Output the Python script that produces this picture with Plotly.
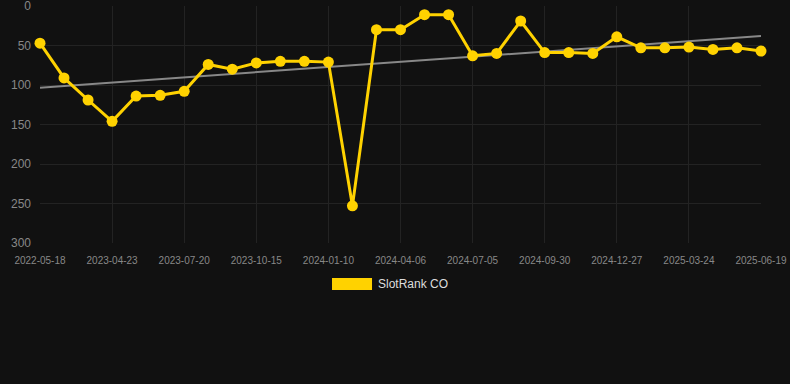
import numpy as np
import plotly.graph_objects as go

tick_labels = ["2022-05-18", "2023-04-23", "2023-07-20", "2023-10-15", "2024-01-10",
               "2024-04-06", "2024-07-05", "2024-09-30", "2024-12-27", "2025-03-24", "2025-06-19"]
ranks = [47, 91, 119, 146, 114, 113, 108, 74, 80, 72, 70, 70, 71, 253, 30, 30,
         11, 11, 63, 60, 19, 59, 59, 60, 39, 53, 53, 52, 55, 53, 57]
series_name = "SlotRank CO"

x = np.arange(len(ranks))
coef = np.polyfit(x, ranks, 1)
trend = np.polyval(coef, x)

gold = "#FFD200"
fig = go.Figure()
fig.add_trace(go.Scatter(x=x, y=trend, mode="lines", line=dict(color="#888888", width=2),
                         showlegend=False, hoverinfo="skip"))
fig.add_trace(go.Scatter(x=x, y=ranks, mode="lines+markers", name=series_name,
                         line=dict(color=gold, width=3),
                         marker=dict(size=11, color=gold),
                         cliponaxis=False, showlegend=False))

# legend drawn as a wide swatch plus text, like the reference
fig.add_shape(type="rect", xref="paper", yref="paper",
              x0=0.405, x1=0.4605, y0=-0.198, y1=-0.1477,
              fillcolor=gold, line=dict(width=0))
fig.add_annotation(text=series_name, xref="paper", yref="paper", x=0.4655, y=-0.173,
                   xanchor="left", yanchor="middle", showarrow=False,
                   font=dict(size=12, color="#dddddd"))

fig.update_layout(
    width=790, height=384,
    paper_bgcolor="#111111", plot_bgcolor="#111111",
    margin=dict(l=40, r=29, t=6, b=141, autoexpand=False),
    font=dict(family="Arial, Liberation Sans, sans-serif", color="#888888"),
    showlegend=False,
    xaxis=dict(range=[0, len(ranks) - 1], tickmode="array",
               tickvals=list(range(0, len(ranks), 3)), ticktext=tick_labels,
               showgrid=True, gridcolor="#232323", zeroline=False,
               tickfont=dict(size=10, color="#888888"), ticks="", showline=False,
               ticklabelstandoff=10, ticklabeloverflow="allow", automargin=False),
    yaxis=dict(range=[300, -0.001], tickmode="array", tickvals=[0, 50, 100, 150, 200, 250, 300],
               showgrid=True, gridcolor="#232323", zeroline=False,
               tickfont=dict(size=12, color="#888888"), ticks="", ticklabelstandoff=8,
               ticklabeloverflow="allow", automargin=False),
)

fig.write_html("out.html", config={"displayModeBar": False},
               post_script="document.body.style.margin='0';document.body.style.background='#111111';")
